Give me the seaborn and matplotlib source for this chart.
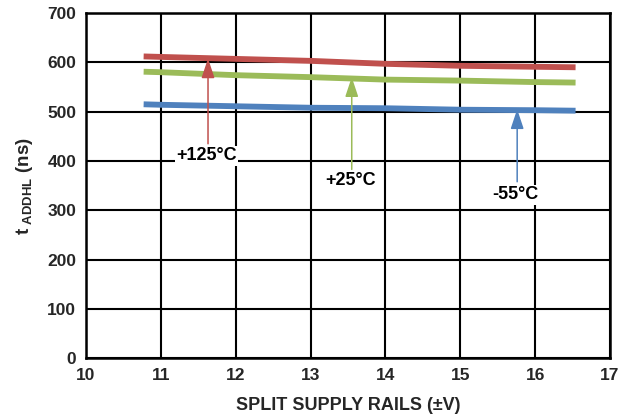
import matplotlib
matplotlib.use("Agg")
import matplotlib.pyplot as plt
import seaborn as sns
import pandas as pd

# ---- data ----
supply_v = [10.77, 11, 12, 13, 14, 15, 16, 16.54]
t_125c = [612, 611, 607, 603, 597, 593, 591, 590]
t_25c = [581, 580, 574, 570, 565, 563, 560, 559]
t_m55c = [515, 514, 511, 508, 507, 504, 503, 502]
series_names = ["+125°C", "+25°C", "-55°C"]
series_colors = ["#C0504D", "#9BBB59", "#4F81BD"]

# annotation positions (data coords): label x, label y, arrow tail y, arrow tip y
label_x = [11.61, 13.53, 15.74]
label_y = [411, 360, 332]
arrow_tail_y = [435, 383, 358]
arrow_tip_y = [608, 570, 505]

x_ticks = [10, 11, 12, 13, 14, 15, 16, 17]
y_ticks = [0, 100, 200, 300, 400, 500, 600, 700]

df = pd.DataFrame({
    "V": supply_v * 3,
    "t": t_125c + t_25c + t_m55c,
    "temp": [series_names[0]] * len(supply_v)
    + [series_names[1]] * len(supply_v)
    + [series_names[2]] * len(supply_v),
})

sns.set_style("white")
plt.rcParams["font.family"] = ["Liberation Sans", "DejaVu Sans"]
plt.rcParams["font.weight"] = "bold"
plt.rcParams["mathtext.fontset"] = "custom"
plt.rcParams["mathtext.bf"] = "Liberation Sans:bold"
plt.rcParams["mathtext.rm"] = "Liberation Sans:bold"

fig = plt.figure(figsize=(6.26, 4.19), dpi=100)
ax = fig.add_axes([86 / 626, 1 - 358.4 / 419, (610 - 86) / 626, (358.4 - 13) / 419])

sns.lineplot(data=df, x="V", y="t", hue="temp", palette=series_colors,
             hue_order=series_names, ax=ax, legend=False, linewidth=4.2,
             solid_capstyle="butt", zorder=3)

ax.set_xlim(10, 17)
ax.set_ylim(0, 700)
ax.set_xticks(x_ticks)
ax.set_yticks(y_ticks)
ax.set_xticklabels([str(v) for v in x_ticks], fontsize=12.5, fontweight="bold")
ax.set_yticklabels([str(v) for v in y_ticks], fontsize=12.5, fontweight="bold")
ax.tick_params(axis="both", length=0)
ax.tick_params(axis="x", pad=7)
ax.tick_params(axis="y", pad=7)
ax.grid(True, color="black", linewidth=1.5)
ax.set_axisbelow(True)
for s in ax.spines.values():
    s.set_color("black")
    s.set_linewidth(1.8)

ax.set_xlabel("SPLIT SUPPLY RAILS (±V)", fontsize=13, fontweight="bold", labelpad=10)
ax.set_ylabel(r"$\mathbf{t}_{\mathbf{\ ADDHL}}$ (ns)", fontsize=13.5, fontweight="bold")
ax.yaxis.set_label_coords(-0.118, 0.5)
ax.yaxis.label.set_va("center")

for name, col, lx, ly, ty, hy in zip(series_names, series_colors, label_x,
                                      label_y, arrow_tail_y, arrow_tip_y):
    ax.annotate("", xy=(lx + 0.02, hy), xytext=(lx + 0.02, ty),
                arrowprops=dict(arrowstyle="-|>,head_length=0.6,head_width=0.2",
                                mutation_scale=20, color=col, lw=1.1,
                                shrinkA=0, shrinkB=0), zorder=4)
    ax.text(lx, ly, name, ha="center", va="center", fontsize=13,
            fontweight="bold", color="black", zorder=5,
            bbox=dict(facecolor="white", edgecolor="none", pad=1))

fig.savefig("out.png", dpi=100)
